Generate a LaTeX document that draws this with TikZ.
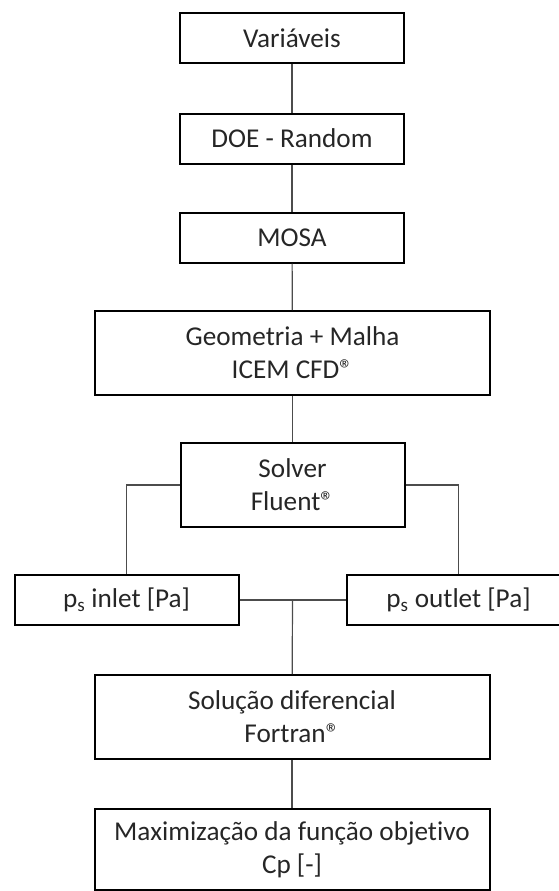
\documentclass[tikz,border=0pt]{standalone}
\usepackage{fontspec}
\setmainfont{Carlito}[Ligatures=NoCommon]
\usetikzlibrary{positioning}

\begin{document}
\begin{tikzpicture}[x=1pt, y=-1pt,
    box/.style={draw, line width=2pt, inner sep=0pt, align=center,
        minimum width=224pt, minimum height=50pt, text=black!85,
        font=\fontsize{27.2}{33}\selectfont},
    wide/.style={box, minimum width=395pt, minimum height=84pt},
    link/.style={draw=black!70, line width=1.2pt}]

    \useasboundingbox (0,0) rectangle (559,891);

    \node[box] (variaveis) at (292,38) {Variáveis};
    \node[box] (doe) at (292,138.5) {DOE - Random};
    \node[box] (mosa) at (292,237.5) {MOSA};
    \node[wide] (geometria) at (292.5,353) {Geometria + Malha\\ICEM CFD®};
    \node[box, minimum height=84pt] (solver) at (292.5,485) {Solver\\Fluent®};
    \node[box] (inlet) at (126.5,600) {p\textsubscript{s} inlet [Pa]};
    \node[box] (outlet) at (458.5,600) {p\textsubscript{s} outlet [Pa]};
    \node[wide] (solucao) at (292,717) {Solução diferencial\\Fortran®};
    \node[wide, minimum height=81pt] (maximizacao) at (292,849.5) {Maximização da função objetivo\\Cp [-]};

    \coordinate (juncao) at (292.5,600);

    \draw[link] (variaveis) -- (doe);
    \draw[link] (doe) -- (mosa);
    \draw[link] (mosa) -- (geometria);
    \draw[link] (geometria) -- (solver);
    \draw[link] (solver.west) -| (inlet);
    \draw[link] (solver.east) -| (outlet);
    \draw[link] (inlet) -- (outlet);
    \draw[link] (juncao) -- (solucao);
    \draw[link] (solucao) -- (maximizacao);

\end{tikzpicture}
\end{document}
